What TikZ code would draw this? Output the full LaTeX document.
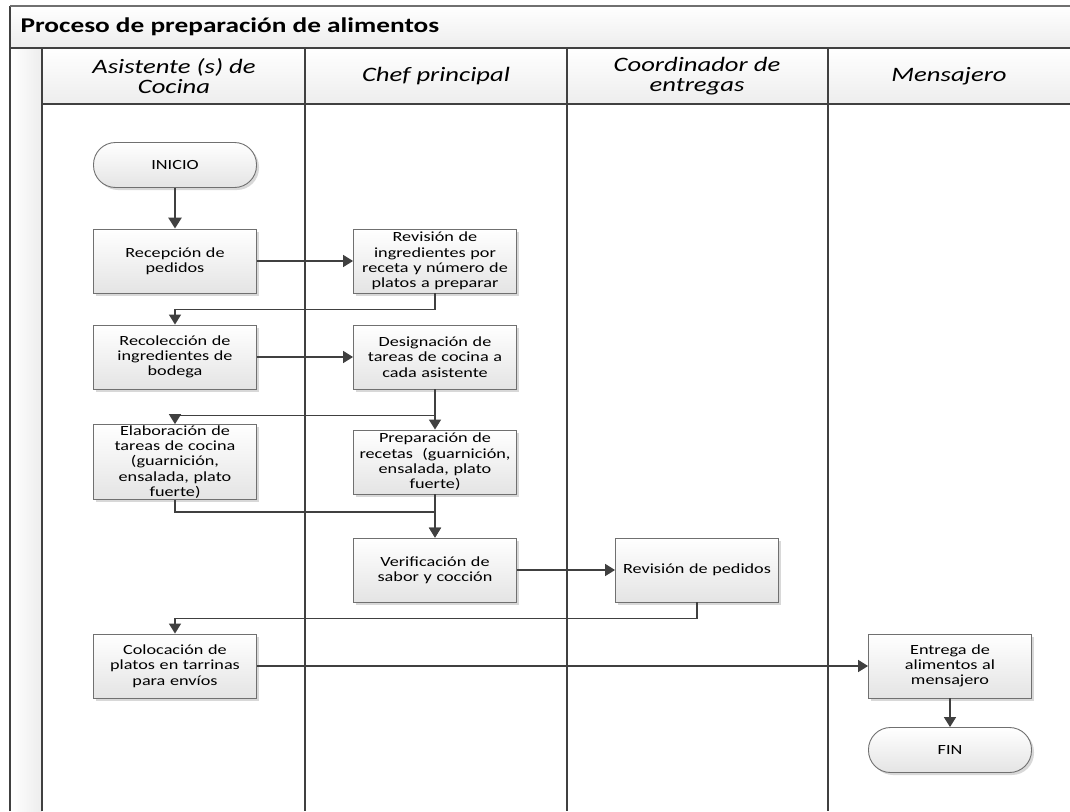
\documentclass[tikz,border=0pt]{standalone}
\usepackage{fontspec}
\setmainfont{Carlito}[FakeStretch=1.3]
\usetikzlibrary{arrows.meta,shadows,positioning}
\definecolor{lineg}{HTML}{404040}
\definecolor{boxbd}{HTML}{707070}
\definecolor{boxbot}{HTML}{E4E4E4}
\definecolor{hdrbot}{HTML}{EDEDED}
\tikzset{
  procbox/.style={draw=boxbd, line width=0.9pt, top color=white, bottom color=boxbot,
    minimum width=163pt, minimum height=64pt, text width=158pt, align=center,
    font=\fontsize{14}{15.3}\selectfont, inner sep=1pt,
    drop shadow={shadow xshift=2.5pt, shadow yshift=-2.5pt, fill=black!25, opacity=0.6}},
  termbox/.style={procbox, minimum height=45pt, rounded corners=22pt},
  conn/.style={draw=lineg, line width=1.5pt, -{Triangle[length=10pt,width=12pt]}},
  thickconn/.style={draw=lineg, line width=2.6pt, -{Triangle[length=11pt,width=13pt]}},
  lane/.style={draw=lineg, line width=1.4pt},
  lanetitle/.style={font=\fontsize{20.5}{20}\selectfont\itshape, align=center}
}
\begin{document}
\begin{tikzpicture}[x=1pt,y=-1pt]
\useasboundingbox (0,0) rectangle (1070,811);
% frame and header
\fill[white] (0,0) rectangle (1070,811);
\shade[top color=white, bottom color=hdrbot] (10,6) rectangle (1070,48);
\shade[top color=white, bottom color=hdrbot] (42,48) rectangle (1070,104);
\shade[left color=white, right color=hdrbot] (10,48) rectangle (42,811);
\draw[lane] (10,811) -- (10,6);
\draw[draw=boxbd, line width=1.2pt] (10,6) -- (1070,6);
\draw[lane] (10,48) -- (1070,48);
\draw[lane] (42,104) -- (1070,104);
\draw[lane] (42,48) -- (42,811);
\foreach \xx in {305,567,828} \draw[lane] (\xx,48) -- (\xx,811);
\node[anchor=west, font=\fontsize{21}{24}\selectfont\bfseries] (title) at (17,27) {Proceso de preparación de alimentos};
\node[lanetitle] (l1) at (174,76) {Asistente (s) de\\Cocina};
\node[lanetitle] (l2) at (436,76) {Chef principal};
\node[lanetitle] (l3) at (697,76) {Coordinador de\\entregas};
\node[lanetitle] (l4) at (949,76) {Mensajero};
% nodes
\node[termbox] (ini) at (175,165) {INICIO};
\node[procbox] (rec) at (175,261) {Recepción de\\pedidos};
\node[procbox] (rev) at (435,261) {Revisión de\\ingredientes por\\receta y número de\\platos a preparar};
\node[procbox] (rcl) at (175,357) {Recolección de\\ingredientes de\\bodega};
\node[procbox] (des) at (435,357) {Designación de\\tareas de cocina a\\cada asistente};
\node[procbox] (ela) at (175,462) {Elaboración de\\tareas de cocina\\(guarnición,\\ensalada, plato\\fuerte)};
\node[procbox] (pre) at (435,462) {Preparación de\\recetas\ \ (guarnición,\\ensalada, plato\\fuerte)};
\node[procbox] (ver) at (435,570) {Verificación de\\sabor y cocción};
\node[procbox] (rvp) at (697,570) {Revisión de pedidos};
\node[procbox] (col) at (175,666) {Colocación de\\platos en tarrinas\\para envíos};
\node[procbox] (ent) at (950,666) {Entrega de\\alimentos al\\mensajero};
\node[termbox] (fin) at (950,750) {FIN};
% connectors
\draw[thickconn] (ini) -- (rec);
\draw[conn] (rec) -- (rev);
\draw[conn] (rev.south) -- ++(0,16) -| (rcl.north);
\draw[conn] (rcl) -- (des);
\draw[conn] (des.south) -- ++(0,26) -| (ela.north);
\draw[conn] (des.south) -- (pre.north);
\draw[conn] (ela.south) -- ++(0,12) -| (ver.north);
\draw[conn] (pre.south) -- (ver.north);
\draw[conn] (rvp.south) -- ++(0,16) -| (col.north);
\draw[conn] (ver) -- (rvp);
\draw[conn] (col) -- (ent);
\draw[conn] (ent) -- (fin);
\end{tikzpicture}
\end{document}
